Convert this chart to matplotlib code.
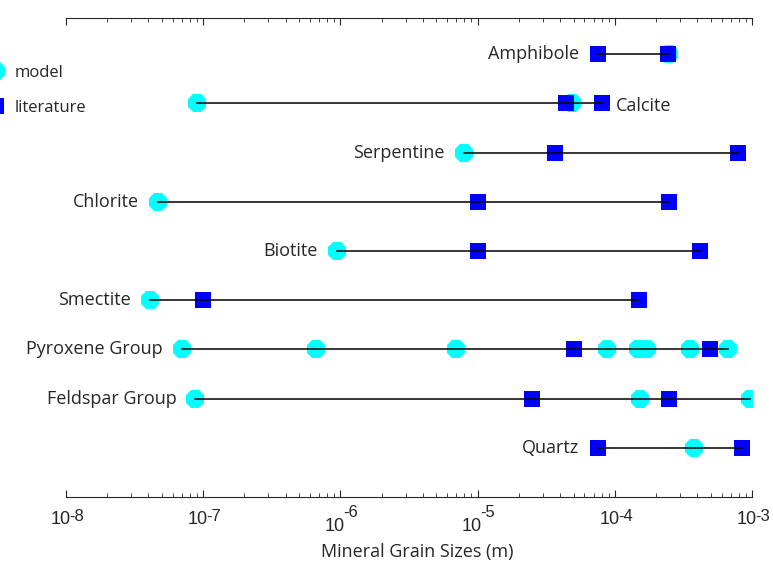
import matplotlib.pyplot as plt
from matplotlib.lines import Line2D

# mineral rows, top to bottom
minerals = ["Amphibole", "Calcite", "Serpentine", "Chlorite", "Biotite",
            "Smectite", "Pyroxene Group", "Feldspar Group", "Quartz"]

# model grain sizes (m) for each mineral
model = [
    [2.5e-4],
    [9.0e-8, 4.9e-5],
    [7.9e-6],
    [4.7e-8],
    [9.4e-7],
    [4.1e-8],
    [7.0e-8, 6.7e-7, 7.0e-6, 8.8e-5, 1.48e-4, 1.71e-4, 3.5e-4, 6.7e-4],
    [8.8e-8, 1.53e-4, 9.6e-4],
    [3.8e-4],
]

# literature grain sizes (m)
literature = [
    [7.5e-5, 2.45e-4],
    [4.4e-5, 8.1e-5],
    [3.65e-5, 7.9e-4],
    [1.0e-5, 2.47e-4],
    [1.0e-5, 4.2e-4],
    [1.0e-7, 1.49e-4],
    [5.0e-5, 4.9e-4],
    [2.48e-5, 2.47e-4],
    [7.5e-5, 8.4e-4],
]

label_right = ["Calcite"]  # names written right of the row
decades = [-8, -7, -6, -5, -4, -3]

txt_col = "#262626"
plt.rcParams['font.family'] = ['Open Sans', 'DejaVu Sans']

fig = plt.figure(figsize=(7.73, 5.62), dpi=100)
ax = fig.add_axes([0.085, 0.1157, 0.888, 0.8517])

n = len(minerals)
for i, name in enumerate(minerals):
    y = n - i
    allv = model[i] + literature[i]
    ax.plot(model[i], [y] * len(model[i]), linestyle="none", marker="8",
            markersize=13.5, color="cyan", markeredgewidth=0, zorder=2)
    ax.plot(literature[i], [y] * len(literature[i]), linestyle="none", marker="s",
            markersize=11, color="blue", markeredgewidth=0, zorder=3)
    ax.plot([min(allv), max(allv)], [y, y], color="black", linewidth=1.1, zorder=4)
    if name in label_right:
        ax.annotate(name, (max(allv), y), xytext=(10, -2), textcoords="offset points",
                    ha="left", va="center", fontsize=13, color=txt_col)
    else:
        ax.annotate(name, (min(allv), y), xytext=(-13.5, 0), textcoords="offset points",
                    ha="right", va="center", fontsize=13, color=txt_col)

ax.set_xscale("log")
ax.set_xlim(1e-8, 1e-3)
ax.set_ylim(0, 9.73)
ax.set_yticks([])
ax.spines["left"].set_visible(False)
ax.spines["right"].set_visible(False)
ax.spines["top"].set_color(txt_col)
ax.spines["bottom"].set_color(txt_col)
ax.tick_params(axis="x", which="both", direction="in", top=True, bottom=True,
               color=txt_col, labelbottom=False)
ax.tick_params(axis="x", which="major", length=5)
ax.tick_params(axis="x", which="minor", length=3)

# tick labels drawn by hand (10^-6 and 10^-5 sit lower, like the original)
for d in decades:
    if d in (-6, -5):
        base_dy, exp_dy = -15.3, -5.8
    else:
        base_dy, exp_dy = -9.9, -8.3
    ax.annotate("10", (10.0 ** d, 0), xycoords=("data", "axes fraction"),
                xytext=(3.3, base_dy), textcoords="offset points", ha="right", va="top",
                fontsize=13, color=txt_col, family="Liberation Sans")
    ax.annotate(str(d), (10.0 ** d, 0), xycoords=("data", "axes fraction"),
                xytext=(2.2, exp_dy), textcoords="offset points", ha="left", va="top",
                fontsize=12, color=txt_col, family="Liberation Sans")

ax.set_xlabel("Mineral Grain Sizes (m)", fontsize=13, color=txt_col)
ax.xaxis.set_label_coords(0.512, -0.1247)
ax.xaxis.label.set_va("baseline")

# legend, partly cut by the left edge like the reference
handles = [Line2D([], [], linestyle="none", marker="8", markersize=13.5, color="cyan", markeredgewidth=0),
           Line2D([], [], linestyle="none", marker="s", markersize=11, color="blue", markeredgewidth=0)]
fig.legend(handles, ["model", "literature"], loc="upper left", bbox_to_anchor=(-0.016, 0.885),
           frameon=False, handlelength=1.0, handletextpad=0.64, borderpad=0, borderaxespad=0,
           labelspacing=1.15, fontsize=12, labelcolor=txt_col)

fig.savefig("out.png", dpi=100)
